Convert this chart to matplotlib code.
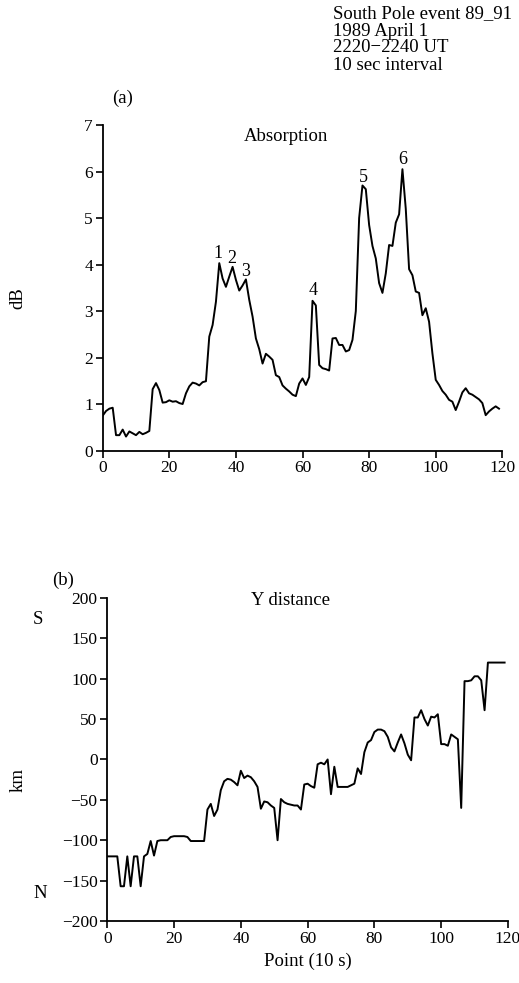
import numpy as np
import matplotlib.pyplot as plt

plt.rcParams['font.family'] = ['Liberation Serif', 'DejaVu Serif']

# absorption (dB), one value per 10 s point
absorption = [0.75, 0.85, 0.90, 0.92, 0.33, 0.33, 0.45, 0.30, 0.41, 0.37,
              0.33, 0.40, 0.35, 0.38, 0.42, 1.32, 1.45, 1.30, 1.03, 1.04,
              1.08, 1.05, 1.06, 1.02, 1.00, 1.23, 1.38, 1.46, 1.44, 1.40,
              1.47, 1.49, 2.45, 2.70, 3.20, 4.03, 3.70, 3.52, 3.74, 3.95,
              3.67, 3.44, 3.55, 3.68, 3.24, 2.88, 2.41, 2.18, 1.87, 2.08,
              2.02, 1.95, 1.62, 1.58, 1.40, 1.33, 1.27, 1.20, 1.17, 1.44,
              1.55, 1.41, 1.58, 3.22, 3.12, 1.84, 1.77, 1.75, 1.72, 2.41,
              2.42, 2.27, 2.27, 2.13, 2.16, 2.38, 3.00, 5.00, 5.70, 5.62,
              4.85, 4.40, 4.13, 3.60, 3.39, 3.81, 4.42, 4.40, 4.90, 5.08,
              6.05, 5.20, 3.90, 3.77, 3.42, 3.39, 2.91, 3.06, 2.77, 2.09,
              1.52, 1.41, 1.28, 1.20, 1.09, 1.05, 0.87, 1.05, 1.25, 1.34,
              1.23, 1.20, 1.15, 1.10, 1.02, 0.76, 0.84, 0.90, 0.95, 0.90]

# Y distance (km), positive = south
ydist = [-120, -120, -120, -120, -157, -157, -120, -157, -120, -120,
         -157, -120, -117, -101, -119, -101, -100, -100, -100, -96,
         -95, -95, -95, -95, -96, -101, -101, -101, -101, -101,
         -62, -55, -70, -62, -38, -27, -24, -25, -28, -32,
         -14, -23, -20, -22, -27, -34, -61, -52, -53, -57,
         -60, -100, -49, -53, -55, -56, -57, -57, -62, -31,
         -30, -33, -35, -6, -4, -6, 0, -43, -9, -34,
         -34, -34, -34, -32, -30, -11, -18, 9, 21, 24,
         34, 37, 37, 35, 28, 15, 10, 21, 31, 20,
         6, -1, 52, 52, 61, 50, 42, 53, 52, 56,
         19, 19, 17, 31, 28, 25, -60, 97, 97, 98,
         103, 103, 98, 61, 120, 120, 120, 120, 120, 120]

# numbered absorption peaks: x, y of label
peak_labels = ['1', '2', '3', '4', '5', '6']
peak_x = [34.5, 38.8, 42.8, 63.3, 78.2, 90.0]
peak_y = [4.24, 4.13, 3.85, 3.44, 5.88, 6.25]

header = ['South Pole event 89_91', '1989 April 1', '2220\u22122240 UT', '10 sec interval']

points = np.arange(len(absorption))
W, H = 519, 983

fig = plt.figure(figsize=(W / 100, H / 100), dpi=100)
ax1 = fig.add_axes([0.1979, 0.5417, 0.770, 0.3311])
ax2 = fig.add_axes([0.2067, 0.0631, 0.772, 0.3286])

for ax in (ax1, ax2):
    for s in ('top', 'right'):
        ax.spines[s].set_visible(False)
    for s in ('left', 'bottom'):
        ax.spines[s].set_linewidth(1.3)
    ax.tick_params(direction='out', length=5, width=1.2, labelsize=12.5, pad=2)
    ax.set_xlim(0, 120)
    ax.set_xticks(np.arange(0, 121, 20))

ax1.plot(points, absorption, color='black', lw=1.4)
ax1.set_ylim(0, 7)
ax1.set_yticks(np.arange(0, 8, 1))
ax1.text(55, 6.75, 'Absorption', ha='center', va='center', fontsize=13.5)
for lab, px, py in zip(peak_labels, peak_x, peak_y):
    ax1.text(px, py, lab, ha='center', va='center', fontsize=13)

ax2.plot(np.arange(len(ydist)), ydist, color='black', lw=1.4)
ax2.set_ylim(-200, 200)
ax2.set_yticks(np.arange(-200, 201, 50))
ax2.set_xlabel('Point (10 s)', fontsize=13.5, labelpad=4)
ax2.text(55, 197, 'Y distance', ha='center', va='center', fontsize=13.5)

# axis titles and side markers
fig.text(18 / W, 1 - 298 / H, 'dB', rotation=90, ha='center', va='center', fontsize=13.5)
fig.text(18 / W, 1 - 780 / H, 'km', rotation=90, ha='center', va='center', fontsize=13.5)
fig.text(38 / W, 1 - 620 / H, 'S', ha='center', va='center', fontsize=13.5)
fig.text(40 / W, 1 - 893 / H, 'N', ha='center', va='center', fontsize=13.5)

fig.text(112 / W, 1 - 98 / H, '(a)', ha='left', va='center', fontsize=13.5)
fig.text(52 / W, 1 - 580 / H, '(b)', ha='left', va='center', fontsize=13.5)
for i, line in enumerate(header):
    fig.text(333 / W, 1 - (14 + 17 * i) / H, line, ha='left', va='center', fontsize=13.5)

fig.savefig('out.png', dpi=100)
